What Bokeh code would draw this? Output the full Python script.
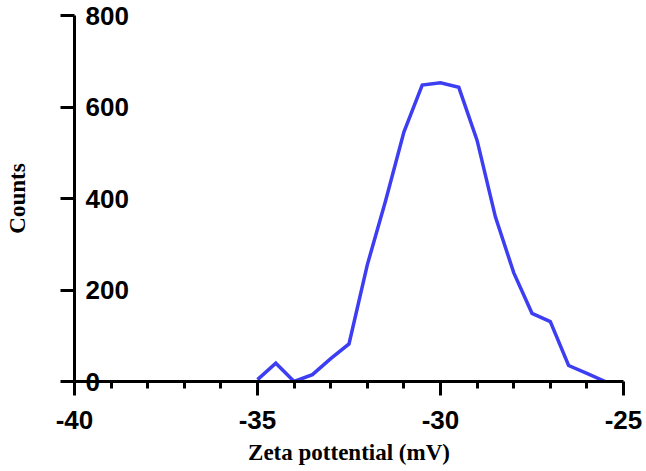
from bokeh.plotting import figure
from bokeh.models import Range1d, FixedTicker, ColumnDataSource
from bokeh.core.properties import value
from bokeh.embed import file_html
from bokeh.resources import INLINE

# Zeta potential distribution
zeta_mv = [-35.0, -34.5, -34.0, -33.5, -33.0, -32.5, -32.0, -31.5, -31.0, -30.5,
           -30.0, -29.5, -29.0, -28.5, -28.0, -27.5, -27.0, -26.5, -26.0, -25.5]
counts = [4, 40, 0, 15, 50, 82, 255, 395, 545, 648,
          653, 643, 527, 360, 238, 149, 131, 35, 18, 0]

x_major = [-40, -35, -30, -25]
x_tick_labels = ["-40", "-35", "-30", "-25"]
x_minor = [-39, -38, -37, -36, -34, -33, -32, -31, -29, -28, -27, -26]
y_ticks = [0, 200, 400, 600, 800]
y_tick_labels = ["0", "200", "400", "600", "800"]

x_title = "Zeta pottential (mV)"
y_title = "Counts"

TICK_FONT = "Liberation Sans"
TITLE_FONT = "Liberation Serif"

p = figure(width=646, height=471, output_backend="svg", toolbar_location=None,
           x_range=Range1d(-40, -25), y_range=Range1d(0, 800),
           min_border_left=74, min_border_right=23, min_border_top=15,
           min_border_bottom=90)
p.outline_line_color = None
p.grid.visible = False
p.background_fill_color = "white"
p.border_fill_color = "white"

p.line(zeta_mv, counts, line_color="#3d3df2", line_width=3.5, line_join="miter")

# x axis
xa = p.xaxis[0]
xa.ticker = FixedTicker(ticks=x_major, minor_ticks=x_minor)
xa.major_label_overrides = dict(zip(x_major, x_tick_labels))
xa.axis_line_width = 3
xa.major_tick_line_width = 3
xa.minor_tick_line_width = 3
xa.major_tick_in = 0
xa.major_tick_out = 14
xa.minor_tick_in = 0
xa.minor_tick_out = 7
xa.major_label_standoff = 15
xa.major_label_text_font = TICK_FONT
xa.major_label_text_font_style = "bold"
xa.major_label_text_font_size = "26px"
xa.major_label_text_color = "black"
xa.axis_label = x_title
xa.axis_label_text_font = TITLE_FONT
xa.axis_label_text_font_style = "bold"
xa.axis_label_text_font_size = "23px"
xa.axis_label_text_color = "black"
xa.axis_label_standoff = 8

# y axis: labels sit to the right of the axis line, drawn as text below
ya = p.yaxis[0]
ya.ticker = FixedTicker(ticks=y_ticks, minor_ticks=[])
ya.axis_line_width = 3
ya.major_tick_line_width = 3
ya.major_tick_in = 0
ya.major_tick_out = 14
ya.minor_tick_out = 0
ya.major_label_overrides = {t: "" for t in y_ticks}
ya.axis_label = y_title
ya.axis_label_text_font = TITLE_FONT
ya.axis_label_text_font_style = "bold"
ya.axis_label_text_font_size = "23px"
ya.axis_label_text_color = "black"
ya.axis_label_standoff = 31

src = ColumnDataSource(dict(x=[-40] * len(y_ticks), y=y_ticks, t=y_tick_labels))
lbl = p.text(x="x", y="y", text="t", source=src, x_offset=11,
             text_align="left", text_baseline="middle",
             text_font=value(TICK_FONT), text_font_style="bold",
             text_font_size="26px", text_color="black")
lbl.level = "overlay"

open("out.html", "w").write(file_html(p, INLINE))
